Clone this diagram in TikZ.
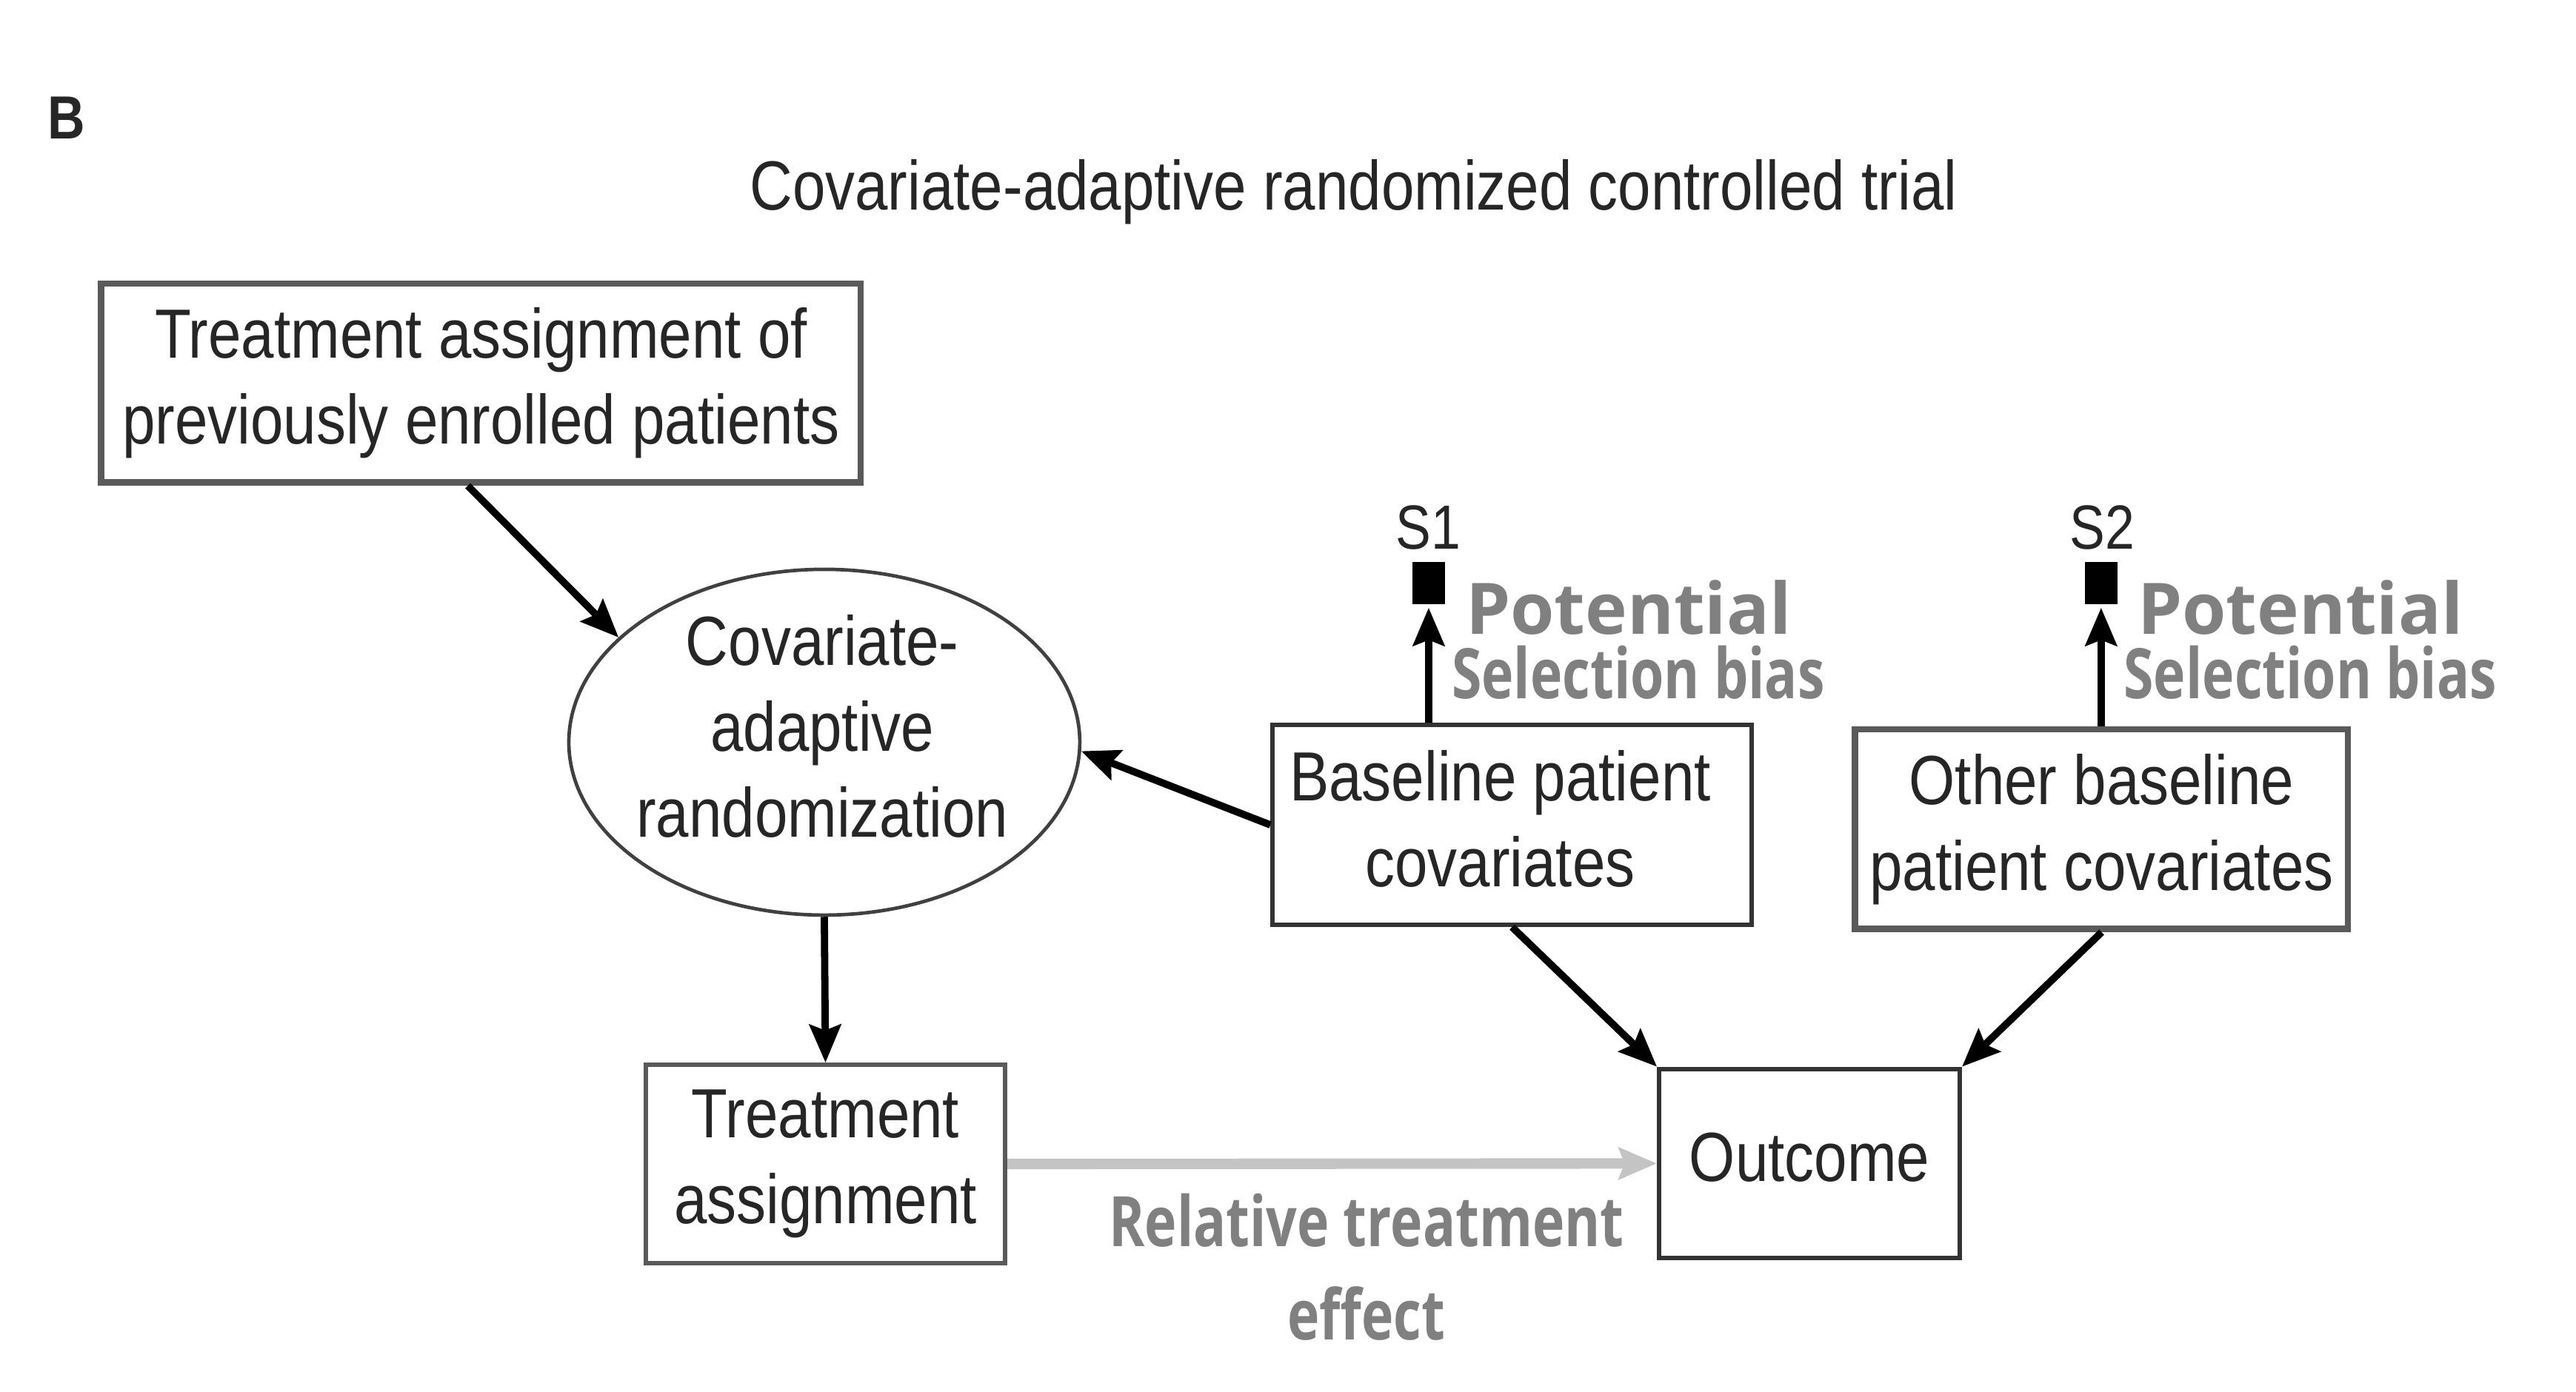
\documentclass[tikz,border=0pt]{standalone}
\usepackage{fontspec}
\setmainfont{Liberation Sans}[FakeStretch=0.85]
\newfontfamily\potfont{Open Sans}
\newfontfamily\selfont{Open Sans}[FakeStretch=0.78]
\usepackage{tikz}
\usetikzlibrary{arrows.meta,positioning,shapes.geometric}

\definecolor{boxgray}{HTML}{5A5A5A}
\definecolor{biasgray}{HTML}{808080}
\definecolor{effgray}{HTML}{C4C4C4}

\begin{document}
\begin{tikzpicture}[x=0.02cm, y=-0.02cm, ->, >={Stealth[length=0.46cm, width=0.38cm, inset=0.07cm]}, line width=2.5pt]
	\tikzstyle{every node}=[font=\fontsize{24}{29.6}\selectfont, text=black!85]
	\tikzstyle{box}=[draw=black!80, line width=1.6pt, rectangle, align=center, inner sep=0pt]
	\tikzstyle{graybox}=[box, draw=boxgray, line width=2.2pt]
	\tikzstyle{sel}=[fill=black, draw=none, minimum width=0.39cm, minimum height=0.51cm, inner sep=0pt]
	\tikzstyle{bias}=[text=biasgray, align=left, inner sep=0pt]
	\useasboundingbox (0,0) rectangle (1560,843);
	% titles
	\node (B) at (40.4,71.3) {\bfseries\fontsize{21}{24}\selectfont B};
	\node[anchor=base] (title) at (819.7,127) {Covariate-adaptive randomized controlled trial};
	% boxes
	\node[graybox, minimum width=9.2cm, minimum height=2.41cm] (prev) at (291.3,232.1) {Treatment assignment of\\previously enrolled patients};
	\node[ellipse, draw=black!75, line width=1.2pt, minimum width=6.19cm, minimum height=4.19cm, inner sep=0pt] (car) at (499.2,449.6) {};
	\node[align=center] (cartxt) at (498,440) {Covariate-\\adaptive\\randomization};
	\node[box, minimum width=5.8cm, minimum height=2.42cm] (base) at (915.7,499.7) {};
	\node[align=center] (basetxt) at (908.5,496) {Baseline patient\\covariates};
	\node[graybox, minimum width=5.97cm, minimum height=2.42cm] (other) at (1272.7,502.3) {Other baseline\\patient covariates};
	\node[graybox, line width=1.6pt, minimum width=4.35cm, minimum height=2.4cm] (treat) at (499.9,705.1) {Treatment\\assignment};
	\node[box, minimum width=3.64cm, minimum height=2.29cm] (out) at (1095.8,704.8) {};
	\node (outtxt) at (1095.8,701) {Outcome};
	% selection nodes
	\node[sel] (s1) at (865.2,353.2) {};
	\node[sel] (s2) at (1272.4,353.2) {};
	\node[anchor=base, font=\fontsize{21.5}{24}\selectfont] (s1lab) at (864.8,332.4) {S1};
	\node[anchor=base, font=\fontsize{21.5}{24}\selectfont] (s2lab) at (1273,332.4) {S2};
	\node[bias, anchor=base west] (pot1) at (885.5,384) {\potfont\bfseries\fontsize{24.5}{28}\selectfont Potential};
	\node[bias, anchor=base west] (sb1)  at (877,423.4) {\selfont\bfseries Selection bias};
	\node[bias, anchor=base west] (pot2) at (1292.3,384) {\potfont\bfseries\fontsize{24.5}{28}\selectfont Potential};
	\node[bias, anchor=base west] (sb2)  at (1284,423.4) {\selfont\bfseries Selection bias};
	\node[text=biasgray, align=center, font=\fontsize{24}{32}\selectfont\selfont\bfseries] (eff) at (827.5,767.5) {Relative treatment\\effect};
	% arrows
	\path
		(prev.south) ++(-8,0) coordinate (pstart)
		(pstart) edge (car.153)
		(base.west) edge (car.-2)
		(car.south) edge (treat.north)
		(base.south) edge (out.north west)
		(other.south) edge (out.north east)
		(s1.south |- base.north) edge (s1.south)
		(s2.south |- other.north) edge (s2.south);
	\draw[effgray, line width=3.6pt] (treat.east) -- (out.west);
\end{tikzpicture}
\end{document}
